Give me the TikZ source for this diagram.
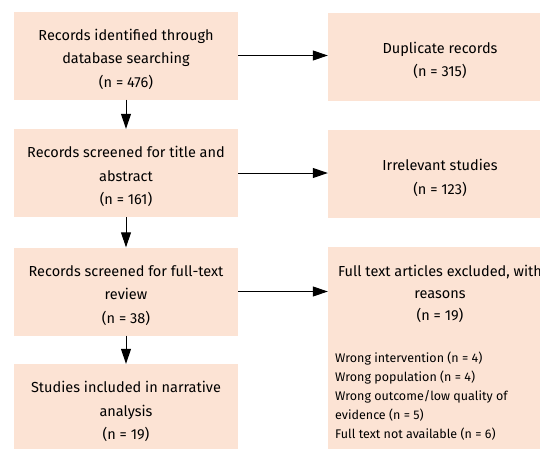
\documentclass[tikz,border=0pt]{standalone}
\usepackage{fontspec}
\setmainfont{Fira Sans}
\usetikzlibrary{arrows.meta}
\definecolor{boxfill}{HTML}{FCE3D4}
\begin{document}
\begin{tikzpicture}[x=1pt,y=-1pt,
  box/.style={rectangle,fill=boxfill,draw=none,minimum width=224pt,minimum height=88pt,
    inner sep=0pt,align=center,font=\fontsize{14.5}{23.5}\selectfont},
  conn/.style={line width=1pt,-{Triangle[length=15pt,width=10pt]}}]
\useasboundingbox (0,0) rectangle (540,448);
\begin{scope}
\clip (0,0) rectangle (540,448);
\node[box] (L1) at (126,55.5) {\rule{0pt}{19pt}Records identified through\\database searching\\(n = 476)};
\node[box] (L2) at (126,173) {\rule{0pt}{19pt}Records screened for title and\\abstract\\(n = 161)};
\node[box] (L3) at (126,291.5) {\rule{0pt}{19pt}Records screened for full-text\\review\\(n = 38)};
\node[box] (L4) at (126,408) {\rule{0pt}{19pt}Studies included in narrative\\analysis\\(n = 19)};
\node[box] (R1) at (440,56.5) {\rule{0pt}{19pt}Duplicate records\\(n = 315)};
\node[box] (R2) at (440,174) {\rule{0pt}{19pt}Irrelevant studies\\(n = 123)};
\node[box,minimum height=215pt] (R3) at (440,354.5) {};
\node[anchor=north,align=center,inner sep=0pt,font=\fontsize{14.5}{22}\selectfont] (R3h) at (440,265)
  {Full text articles excluded, with\\reasons\\(n = 19)};
\node[anchor=north west,align=left,inner sep=0pt,font=\fontsize{12.5}{19}\selectfont] (R3l) at (335,352)
  {Wrong intervention (n = 4)\\Wrong population (n = 4)\\Wrong outcome/low quality of\\evidence (n = 5)\\Full text not available (n = 6)};
\end{scope}
\draw[conn] (L1) -- (L2);
\draw[conn] (L2) -- (L3);
\draw[conn] (L3) -- (L4);
\draw[conn] (L1.east) -- (L1.east -| R1.west);
\draw[conn] (L2.east) -- (L2.east -| R2.west);
\draw[conn] (L3.east) -- (L3.east -| R3.west);
\end{tikzpicture}
\end{document}
